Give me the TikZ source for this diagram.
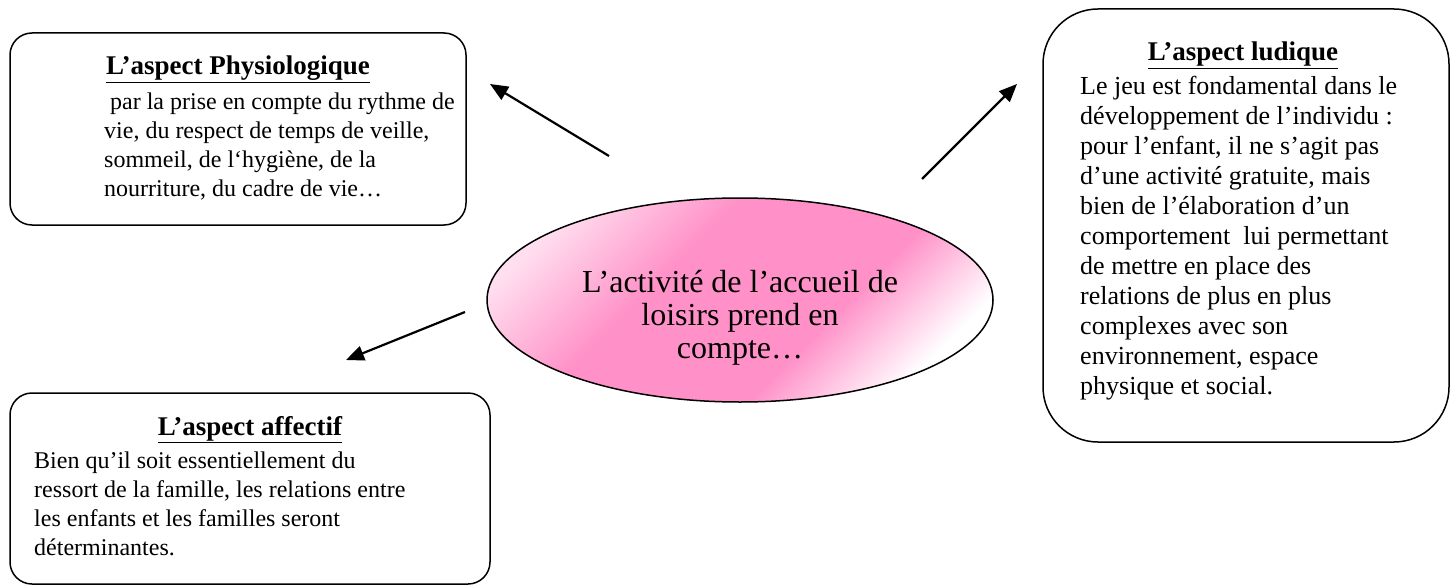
\documentclass[tikz,border=0pt]{standalone}
\usepackage{fontspec}
\setmainfont{Liberation Serif}
\usetikzlibrary{arrows.meta,shapes.geometric}
\definecolor{rose}{RGB}{255,145,200}
\pgfdeclareverticalshading{rosegrad}{100bp}{color(0bp)=(white); color(25bp)=(white); color(39bp)=(rose); color(60bp)=(rose); color(76bp)=(white!70!rose); color(100bp)=(white)}
\begin{document}
\begin{tikzpicture}[x=1pt,y=-1pt,
  boite/.style={draw, line width=1.5pt, rounded corners=22pt, inner sep=0pt},
  titre/.style={font=\fontsize{27}{31}\selectfont\bfseries, anchor=base, inner sep=0pt},
  corps/.style={font=\fontsize{24}{29}\selectfont, align=left, anchor=north west, inner sep=0pt},
  grand/.style={font=\fontsize{26}{30}\selectfont, align=left, anchor=north west, inner sep=0pt},
  fleche/.style={line width=2.2pt, -{Triangle[length=18pt,width=15pt]}}]
\useasboundingbox (0,0) rectangle (1455,588);

% boxes
\node[boite, minimum width=456pt, minimum height=192pt] (physio) at (238,129) {};
\node[boite, minimum width=480pt, minimum height=191pt] (affect) at (250,488.5) {};
\node[boite, rounded corners=55pt, minimum width=406pt, minimum height=433pt] (ludique) at (1246,225.5) {};

% central ellipse
\node[ellipse, draw, line width=1.5pt, minimum width=506pt, minimum height=204pt,
      shading=rosegrad, shading angle=45] (centre) at (740,300) {};
\node[font=\fontsize{32}{33}\selectfont, align=center, inner sep=0pt] (centreT) at (740,318)
  {L’activité de l’accueil de\\loisirs prend en\\compte…};

% texts
\node[titre] (physioT) at (238,75) {\underline{L’aspect Physiologique}};
\node[corps] (physioC) at (104,88.7) {\strut\ par la prise en compte du rythme de\\vie, du respect de temps de veille,\\sommeil, de l‘hygiène, de la\\nourriture, du cadre de vie…};

\node[titre] (affectT) at (250,435) {\underline{L’aspect affectif}};
\node[corps] (affectC) at (34,447.7) {\strut Bien qu’il soit essentiellement du\\ressort de la famille, les relations entre\\les enfants et les familles seront\\déterminantes.};

\node[titre] (ludiqueT) at (1243,61) {\underline{L’aspect ludique}};
\node[grand] (ludiqueC) at (1080,73) {\strut Le jeu est fondamental dans le\\développement de l’individu :\\pour l’enfant, il ne s’agit pas\\d’une activité gratuite, mais\\bien de l’élaboration d’un\\comportement\ \ lui permettant\\de mettre en place des\\relations de plus en plus\\complexes avec son\\environnement, espace\\physique et social.};

% arrows
\coordinate (a1s) at (609,156);
\coordinate (a1e) at (490,84);
\coordinate (a2s) at (465,312);
\coordinate (a2e) at (346,360);
\coordinate (a3s) at (922,179);
\coordinate (a3e) at (1017,84);
\draw[fleche] (a1s) -- (a1e);
\draw[fleche] (a2s) -- (a2e);
\draw[fleche] (a3s) -- (a3e);
\end{tikzpicture}
\end{document}
